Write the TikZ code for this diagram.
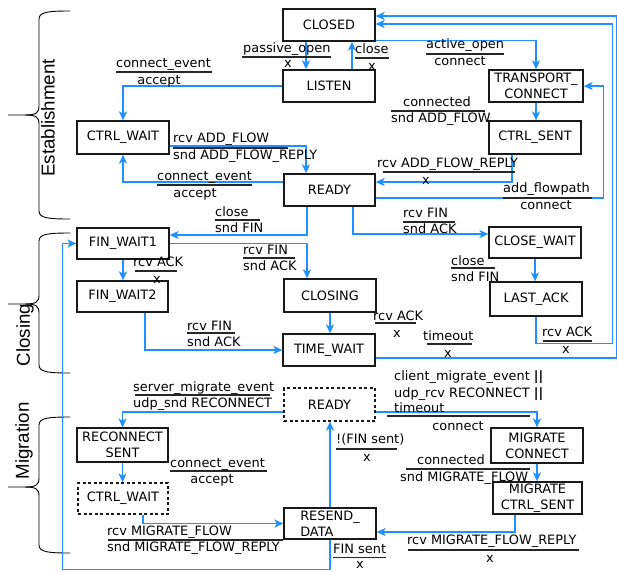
\documentclass[tikz,border=0pt]{standalone}
\usepackage{fontspec}
\setmainfont{DejaVu Sans}
\newfontfamily\secfont{Liberation Sans}
\usetikzlibrary{arrows.meta}
\definecolor{flowblue}{RGB}{30,144,255}
\newcommand\nodefont{\fontsize{12.9}{16}\selectfont}
\tikzset{
  state/.style={draw=black!90, line width=1.3pt, minimum width=92pt,
    minimum height=32pt, inner sep=0pt, align=center, font=\nodefont},
  dashedstate/.style={state, dash pattern=on 3pt off 2.5pt, line width=1.2pt},
  flow/.style={draw=flowblue, line width=1.5pt,
    -{Stealth[length=9pt,width=8pt,inset=2.5pt]}},
  rule/.style={draw=black!85, line width=1.2pt},
  tl/.style={inner sep=0pt, anchor=base west, font=\nodefont},
  tc/.style={inner sep=0pt, anchor=base, font=\nodefont},
  brace/.style={draw=black, line width=0.9pt},
  sec/.style={rotate=90, inner sep=0pt, font=\secfont\fontsize{18.7}{22}\selectfont}
}
\begin{document}
\begin{tikzpicture}[x=1pt,y=-1pt]
\useasboundingbox (0,0) rectangle (617,571);

% ---------- phase braces ----------
\foreach \T/\M/\B in {11/115/219, 233/304/373, 417/487/553}{
  \draw[brace] (70,\T) .. controls (48,\T) and (39,\T+1) .. (39,\T+8)
    -- (39,\M-9) .. controls (39,\M-2) and (36,\M) .. (25,\M) -- (8,\M);
  \draw[brace] (25,\M) .. controls (36,\M) and (39,\M+2) .. (39,\M+9)
    -- (39,\B-8) .. controls (39,\B-1) and (48,\B) .. (70,\B);
}
\node[sec] (estab) at (48,118) {Establishment};
\node[sec] (closingph) at (25,335) {Closing};
\node[sec] (migration) at (24,441) {Migration};

% ---------- states ----------
\node[state] (closed) at (329,25) {CLOSED};
\node[state] (listen) at (329,86) {LISTEN};
\node[state, minimum width=94pt] (transport) at (536,86) {TRANSPORT\_\\CONNECT};
\node[state, minimum height=33pt] (ctrlsent) at (535,137.5) {CTRL\_SENT};
\node[state, minimum height=33pt] (ctrlwait) at (123,137.5) {CTRL\_WAIT};
\node[state, minimum width=91pt] (ready) at (329.5,190) {READY};
\node[state, minimum height=31pt] (finwaitone) at (123,243.5) {FIN\_WAIT1};
\node[state, minimum width=91pt, minimum height=31pt] (finwaittwo) at (122.5,296.5) {FIN\_WAIT2};
\node[state, minimum height=33pt] (closing) at (330,295.5) {CLOSING};
\node[state] (timewait) at (329,350) {TIME\_WAIT};
\node[state, minimum height=31pt] (closewait) at (535,242.5) {CLOSE\_WAIT};
\node[state, minimum height=34pt] (lastack) at (536,299) {LAST\_ACK};

\node[dashedstate, minimum width=91pt, minimum height=33pt] (mready) at (329.5,404.5) {READY};
\node[state, minimum width=91pt, minimum height=34pt] (reconnect) at (122.5,445) {RECONNECT\\SENT};
\node[dashedstate, minimum width=90pt, minimum height=31pt] (mctrlwait) at (123,498.5) {CTRL\_WAIT};
\node[state, minimum height=31pt, align=left] (resend) at (330,523.5) {RESEND\_\\DATA};
\node[state, minimum height=35pt] (migconnect) at (537,445.5) {MIGRATE\\CONNECT};
\node[state, minimum width=89pt] (migctrl) at (537.5,498) {MIGRATE\\CTRL\_SENT};

% ---------- transitions: establishment ----------
\draw[flow] ([xshift=-23]closed.south) -- ([xshift=-23]listen.north);
\draw[flow] ([xshift=23]listen.north) -- ([xshift=23]closed.south);
\draw[flow] ([yshift=1]closed.south east) -| (transport.north);
\draw[flow] (listen.west) -| (ctrlwait.north);
\draw[flow] ([yshift=-8.5]ctrlwait.east) -| ([xshift=-23.5]ready.north);
\draw[flow] ([yshift=8]ready.west) -| (ctrlwait.south);
\draw[flow] (transport.south) -- (transport.south |- ctrlsent.north);
\draw[flow] ([xshift=-23]ctrlsent.south) |- ([yshift=8]ready.east);
\draw[flow] ([yshift=-8]ready.east) -| ([xshift=20]transport.east) -- (transport.east);

% ---------- transitions: closing ----------
\draw[flow] ([xshift=-22.5]ready.south) |- ([yshift=8.5]finwaitone.east);
\draw[flow] ([xshift=23.5]ready.south) |- ([yshift=8.5]closewait.west);
\draw[flow] (finwaitone.south) -- (finwaitone.south |- finwaittwo.north);
\draw[flow] (finwaitone.east) -| ([xshift=-23]closing.north);
\draw[flow] ([xshift=22.5]finwaittwo.south) |- (timewait.west);
\draw[flow] (closing.south) -- (closing.south |- timewait.north);
\draw[flow] (closewait.south) -- (closewait.south |- lastack.north);
\draw[flow] (lastack.south) -- ++(0,27) -| ([xshift=237,yshift=1]closed.east)
  -- ([yshift=1]closed.east);
\draw[flow] ([yshift=-8]timewait.east) -| ([xshift=241,yshift=9]closed.east)
  -- ([yshift=9]closed.east);

% ---------- transitions: migration ----------
\draw[flow] ([yshift=-7.5]mready.west) -| (reconnect.north);
\draw[flow] ([yshift=-7.5]mready.east) -| (migconnect.north);
\draw[flow] (reconnect.south) -- (reconnect.south |- mctrlwait.north);
\draw[flow] ([xshift=20]mctrlwait.south) |- (resend.west);
\draw[flow] (migconnect.south) -- (migconnect.south |- migctrl.north);
\draw[flow] ([xshift=-22.5]migctrl.south) |- ([yshift=-8.5]resend.east);
\draw[flow] (resend.north) -- (resend.north |- mready.south);
\draw[flow] (resend.south) -- ++(0,30) -| ([xshift=-14]finwaitone.west)
  -- (finwaitone.west);

% ---------- event / action labels ----------
\node[tl] (e1) at (243,52) {passive\_open};
\draw[rule] (242,57) -- (331,57);
\node[tc] (a1) at (288,67.5) {x};

\node[tl] (e2) at (355,53) {close};
\draw[rule] (355,58) -- (389,58);
\node[tc] (a2) at (372,70) {x};

\node[tl] (e3) at (426,48) {active\_open};
\draw[rule] (426,54) -- (504,54);
\node[tc] (a3) at (460,65) {connect};

\node[tl] (e4) at (116,67) {connect\_event};
\draw[rule] (116,72) -- (212,72);
\node[tc] (a4) at (159,84) {accept};

\node[tl] (e5) at (173,142) {rcv ADD\_FLOW};
\draw[rule] (173,148) -- (288,148);
\node[tl] (a5) at (173,159) {snd ADD\_FLOW\_REPLY};

\node[tl] (e6) at (157,180) {connect\_event};
\draw[rule] (157,185) -- (252,185);
\node[tc] (a6) at (195,197) {accept};

\node[tl] (e7) at (403,106) {connected};
\draw[rule] (391,111) -- (485,111);
\node[tl] (a7) at (391,122) {snd ADD\_FLOW};

\node[tl] (e8) at (377,167) {rcv ADD\_FLOW\_REPLY};
\draw[rule] (383,172) -- (515,172);
\node[tc] (a8) at (426,184) {x};

\node[tl] (e9) at (503,192) {add\_flowpath};
\draw[rule] (503,198) -- (592,198);
\node[tc] (a9) at (546,209) {connect};

\node[tl] (e10) at (215,216) {close};
\draw[rule] (215,220) -- (260,220);
\node[tl] (a10) at (215,232) {snd FIN};

\node[tl] (e11) at (403,217) {rcv FIN};
\draw[rule] (403,222) -- (455,222);
\node[tl] (a11) at (403,233) {snd ACK};

\node[tl] (e12) at (133,266) {rcv ACK};
\draw[rule] (135,271) -- (177,271);
\node[tc] (a12) at (157,283) {x};

\node[tl] (e13) at (243,254) {rcv FIN};
\draw[rule] (243,258) -- (295,258);
\node[tl] (a13) at (243,270) {snd ACK};

\node[tl] (e14) at (451,265) {close};
\draw[rule] (451,268) -- (495,268);
\node[tl] (a14) at (451,281) {snd FIN};

\node[tl] (e15) at (187,330) {rcv FIN};
\draw[rule] (187,333) -- (235,333);
\node[tl] (a15) at (187,346) {snd ACK};

\node[tl] (e16) at (373,320) {rcv ACK};
\draw[rule] (375,323) -- (416,323);
\node[tc] (a16) at (397,337) {x};

\node[tl] (e17) at (423,340) {timeout};
\draw[rule] (427,344) -- (472,344);
\node[tc] (a17) at (448,357) {x};

\node[tl] (e18) at (542,336) {rcv ACK};
\draw[rule] (543,341) -- (592,341);
\node[tc] (a18) at (566,353) {x};

\node[tl] (e19) at (133,391) {server\_migrate\_event};
\draw[rule] (135,395) -- (270,395);
\node[tl] (a19) at (133,407) {udp\_snd RECONNECT};

\node[tl] (e20a) at (394,380) {client\_migrate\_event \textbf{||}};
\node[tl] (e20b) at (394,397) {udp\_rcv RECONNECT \textbf{||}};
\node[tl] (e20c) at (394,412) {timeout};
\draw[rule] (387,416) -- (530,416);
\node[tc] (a20) at (458,430) {connect};

\node[tl] (e21) at (170,467) {connect\_event};
\draw[rule] (170,471) -- (267,471);
\node[tc] (a21) at (212,483) {accept};

\node[tl] (e22) at (336,443) {!(FIN sent)};
\draw[rule] (336,449) -- (397,449);
\node[tc] (a22) at (367,461) {x};

\node[tl] (e23) at (417,464) {connected};
\draw[rule] (406,469) -- (530,469);
\node[tl] (a23) at (400,481) {snd MIGRATE\_FLOW};

\node[tl] (e24) at (107,535) {rcv MIGRATE\_FLOW};
\draw[rule] (108,540) -- (283,540);
\node[tl] (a24) at (107,551) {snd MIGRATE\_FLOW\_REPLY};

\node[tl] (e25) at (407,544) {rcv MIGRATE\_FLOW\_REPLY};
\draw[rule] (408,550) -- (579,550);
\node[tc] (a25) at (490,562) {x};

\node[tl] (e26) at (333,553.5) {FIN sent};
\draw[rule] (333,557.5) -- (386,557.5);
\node[tc] (a26) at (360,568) {x};
\end{tikzpicture}
\end{document}
